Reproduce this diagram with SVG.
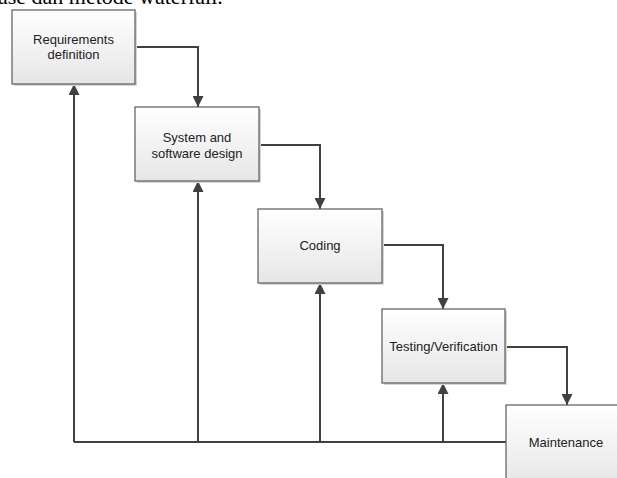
<svg xmlns="http://www.w3.org/2000/svg" width="617" height="478" viewBox="0 0 617 478">
<style>
.box{fill:url(#g);stroke:#5a5a5a;stroke-width:1.2}
.sh{fill:#d6d6d6}
.lbl{font-family:"Liberation Sans",Arial,sans-serif;font-size:13px;fill:#222;text-anchor:middle}
.ln{fill:none;stroke:#404040;stroke-width:2}
.top{font-family:"Liberation Serif","Times New Roman",serif;font-size:22px;fill:#000}
</style>
<defs>
<linearGradient id="g" x1="0" y1="0" x2="0" y2="1">
<stop offset="0" stop-color="#ffffff"/>
<stop offset="1" stop-color="#e6e6e6"/>
</linearGradient>
<marker id="ah" viewBox="0 0 10 10" refX="10" refY="5" markerWidth="5.5" markerHeight="5.5" orient="auto" markerUnits="strokeWidth">
<path d="M0,0 L10,5 L0,10 Z" fill="#404040"/>
</marker>
</defs>
<text class="top" x="-2" y="4">ase dan metode waterfall.</text>
<g id="connectors">
<path class="ln" d="M135,47 H198 V107" marker-end="url(#ah)"/>
<path class="ln" d="M259,145 H320 V209" marker-end="url(#ah)"/>
<path class="ln" d="M382,245 H443 V309" marker-end="url(#ah)"/>
<path class="ln" d="M505,347 H567 V405" marker-end="url(#ah)"/>
<path class="ln" d="M506,442 H74"/>
<path class="ln" d="M74,442 V84" marker-end="url(#ah)"/>
<path class="ln" d="M198,442 V181" marker-end="url(#ah)"/>
<path class="ln" d="M320,442 V283" marker-end="url(#ah)"/>
<path class="ln" d="M443,442 V383" marker-end="url(#ah)"/>
</g>
<g id="requirements">
<rect class="sh" x="14" y="12" width="123" height="74"/>
<rect class="box" x="12" y="10" width="123" height="74"/>
<text class="lbl" x="73.5" y="44">Requirements</text>
<text class="lbl" x="73.5" y="59">definition</text>
</g>
<g id="design">
<rect class="sh" x="137" y="109" width="124" height="74"/>
<rect class="box" x="135" y="107" width="124" height="74"/>
<text class="lbl" x="197" y="142">System and</text>
<text class="lbl" x="197" y="158">software design</text>
</g>
<g id="coding">
<rect class="sh" x="260" y="211" width="124" height="74"/>
<rect class="box" x="258" y="209" width="124" height="74"/>
<text class="lbl" x="320" y="250">Coding</text>
</g>
<g id="testing">
<rect class="sh" x="384" y="311" width="123" height="74"/>
<rect class="box" x="382" y="309" width="123" height="74"/>
<text class="lbl" x="443.5" y="351">Testing/Verification</text>
</g>
<g id="maintenance">
<rect class="box" x="506" y="405" width="124" height="80"/>
<text class="lbl" x="566" y="447">Maintenance</text>
</g>
</svg>
